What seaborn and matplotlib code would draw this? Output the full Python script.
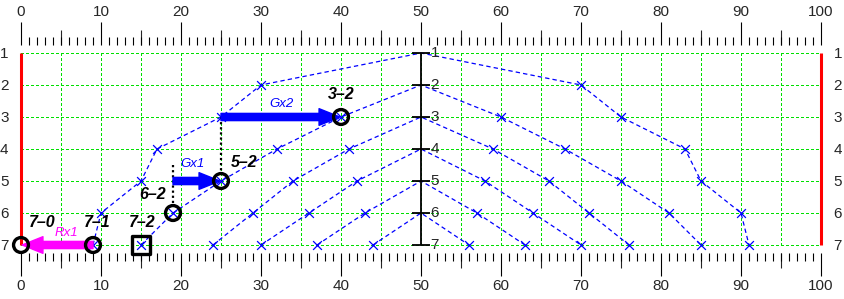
import matplotlib
matplotlib.use("Agg")
import matplotlib.pyplot as plt
import seaborn as sns
import numpy as np
import pandas as pd

# ---------------- data ----------------
levels = [1, 2, 3, 4, 5, 6, 7]
x_major = list(range(0, 101, 10))
x_medium = list(range(5, 100, 10))
x_minor = list(range(0, 101, 1))
grid_x = list(range(5, 100, 5))

curve1_x = [9, 10, 15, 17, 25, 30, 50, 70, 75, 83, 85, 90, 91]
curve1_y = [7, 6, 5, 4, 3, 2, 1, 2, 3, 4, 5, 6, 7]
curve2_x = [15, 19, 25, 32, 40, 50, 60, 68, 75, 81, 85]
curve2_y = [7, 6, 5, 4, 3, 2, 3, 4, 5, 6, 7]
curve3_x = [24, 29, 34, 41, 50, 59, 66, 71, 76]
curve3_y = [7, 6, 5, 4, 3, 4, 5, 6, 7]
curve4_x = [30, 36, 42, 50, 58, 64, 70]
curve4_y = [7, 6, 5, 4, 5, 6, 7]
curve5_x = [37, 43, 50, 57, 63]
curve5_y = [7, 6, 5, 6, 7]
curve6_x = [44, 50, 56]
curve6_y = [7, 6, 7]
curves = [(curve1_x, curve1_y), (curve2_x, curve2_y), (curve3_x, curve3_y),
          (curve4_x, curve4_y), (curve5_x, curve5_y), (curve6_x, curve6_y)]

circle_x = [0, 9, 19, 25, 40]
circle_y = [7, 7, 6, 5, 3]
circle_labels = ["7\u20130", "7\u20131", "6\u20132", "5\u20132", "3\u20132"]
square_x = [15]
square_y = [7]
square_labels = ["7\u20132"]

arrow_names = ["Gx2", "Gx1", "Rx1"]
arrow_from_x = [25, 19, 9]
arrow_to_x = [40, 25, 0]
arrow_y = [3, 5, 7]
arrow_colors = ["#0000ff", "#0000ff", "#ff00ff"]

guide_x = [25, 19]
guide_top = [3, 4.5]
guide_bottom = [4.7, 5.75]

# ---------------- style ----------------
sns.set_style("white")
plt.rcParams["font.family"] = ["Liberation Sans", "DejaVu Sans"]

fig = plt.figure(figsize=(8.44, 2.99), dpi=100)
ax = fig.add_axes([21 / 844, 46 / 299, 800 / 844, 208 / 299])
ax.set_xlim(0, 100)
ax.set_ylim(7.25, 0.75)
for s in ax.spines.values():
    s.set_visible(False)

# ticks
ax.set_xticks(x_major)
ax.set_xticks(x_minor, minor=True)
ax.tick_params(axis="x", which="both", top=True, bottom=True,
               labeltop=True, labelbottom=True, direction="out",
               width=0.8, color="black")
ax.tick_params(axis="x", which="major", length=16.5, pad=2.5, labelsize=11)
ax.tick_params(axis="x", which="minor", length=6)
for side in ["top", "bottom"]:
    sec = ax.secondary_xaxis(side)
    sec.set_xticks(x_medium)
    sec.set_xticklabels([])
    sec.tick_params(length=11, width=0.8, direction="out")
    for s in sec.spines.values():
        s.set_visible(False)

ax.set_yticks(levels)
ax.tick_params(axis="y", length=0, left=True, right=True,
               labelleft=True, labelright=True, pad=9, labelsize=11)

green = "#00e000"
ax.hlines(levels, 0, 100, colors=green, lw=0.75, linestyles=(0, (2, 2.5)),
          zorder=1, antialiased=False, clip_on=False)
ax.vlines(grid_x, 1, 7, colors=green, lw=0.75, linestyles=(0, (2, 2.5)),
          zorder=1, antialiased=False, clip_on=False)

# blue curves
for cx, cy in curves:
    sns.lineplot(x=cx, y=cy, sort=False, estimator=None, color="#0000ff",
                 lw=0.9, linestyle=(0, (3.5, 2.5)), ax=ax, zorder=2, clip_on=False)
    mx = [a for a, b in zip(cx, cy) if a != 50]
    my = [b for a, b in zip(cx, cy) if a != 50]
    sns.scatterplot(x=mx, y=my, marker="x", color="#0000ff", s=40,
                    linewidth=0.9, ax=ax, zorder=3, clip_on=False)

# red boundaries
ax.vlines([0, 100], 1, 7, colors="#ff0000", lw=2.2, zorder=3, clip_on=False)

# center axis
ax.vlines(50, 1, 7, colors="black", lw=1.3, zorder=4)
ax.hlines(levels, 48.9, 51.1, colors="black", lw=1.3, zorder=4)
for lv in levels:
    ax.text(51.2, lv, str(lv), ha="left", va="center", fontsize=11, zorder=4)

# guides
for gx, gt, gb in zip(guide_x, guide_top, guide_bottom):
    ax.plot([gx, gx], [gt, gb], color="black", lw=1.6, linestyle=(0, (1, 1.3)), zorder=4)

# arrows
for name, x0, x1, yy, col in zip(arrow_names, arrow_from_x, arrow_to_x, arrow_y, arrow_colors):
    ax.annotate("", xy=(x1, yy), xytext=(x0, yy), annotation_clip=False,
                arrowprops=dict(arrowstyle="simple,head_length=1.5,head_width=1.2,tail_width=0.52",
                                color=col, shrinkA=0, shrinkB=0.8, mutation_scale=10,
                                clip_on=False), zorder=5)

arrow_label_offsets = {"Gx2": (0, 9.5), "Gx1": (-3, 12), "Rx1": (7, 9)}
for name, x0, x1, yy, col in zip(arrow_names, arrow_from_x, arrow_to_x, arrow_y, arrow_colors):
    ax.annotate(name, xy=((x0 + x1) / 2, yy), xytext=arrow_label_offsets[name],
                textcoords="offset points", ha="center", va="center",
                fontsize=9.5, style="italic", color=col, zorder=6)

# circles and square
sns.scatterplot(x=circle_x, y=circle_y, marker="o", s=115, color="black",
                linewidth=2.4, ax=ax, zorder=6, clip_on=False)
ax.collections[-1].set_facecolor("none")
ax.collections[-1].set_edgecolor("black")
sns.scatterplot(x=square_x, y=square_y, marker="s", s=150, color="black",
                linewidth=2.4, ax=ax, zorder=6, clip_on=False)
ax.collections[-1].set_facecolor("none")
ax.collections[-1].set_edgecolor("black")

label_offsets = {"7\u20130": (15, 16), "7\u20131": (2.7, 16), "6\u20132": (-14.4, 13),
                 "5\u20132": (16.6, 13), "3\u20132": (0, 16), "7\u20132": (0.6, 16)}
for lx, ly, lt in zip(circle_x + square_x, circle_y + square_y, circle_labels + square_labels):
    ax.annotate(lt, xy=(lx, ly), xytext=label_offsets[lt], textcoords="offset points",
                ha="center", va="center", fontsize=11.5, fontweight="bold",
                style="italic", color="black", zorder=7, annotation_clip=False)

ax.set_xlabel("")
ax.set_ylabel("")
fig.savefig("out.png", dpi=100)
